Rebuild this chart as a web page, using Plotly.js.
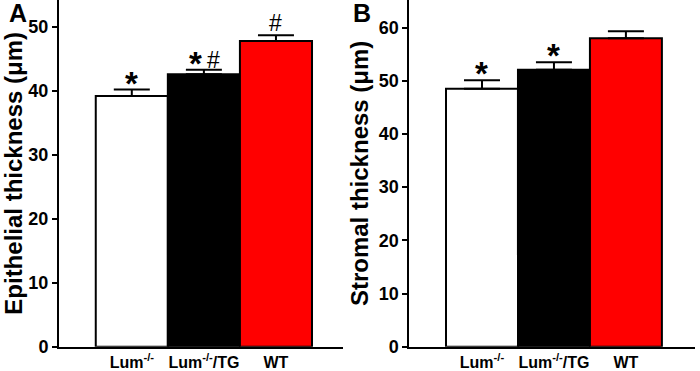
<!DOCTYPE html>
<html>
<head>
<meta charset="utf-8">
<script src="https://cdn.plot.ly/plotly-3.0.1.min.js"></script>
<style>html,body{margin:0;padding:0;background:#fff;}#chart{width:700px;height:371px;}</style>
</head>
<body>
<div id="chart"></div>
<script>
// ---- data ----
var categories = ["Lum-/-", "Lum-/-/TG", "WT"];
var tickLabels = ["Lum<sup>-/-</sup>", "Lum<sup>-/-</sup>/TG", "WT"];
var epithelialMean = [39.2, 42.6, 47.8];
var epithelialSEM = [1.0, 0.7, 0.9];
var stromalMean = [48.5, 52.1, 58.0];
var stromalSEM = [1.6, 1.4, 1.3];
var epithelialStars = [true, true, false];
var epithelialHashes = [false, true, true];
var stromalStars = [true, true, false];
var stromalHashes = [false, false, false];
var yTicksA = [0, 10, 20, 30, 40, 50];
var yTicksB = [0, 10, 20, 30, 40, 50, 60];
var barColors = ["#ffffff", "#000000", "#ff0000"];

var FONT = "Liberation Sans, Arial, Helvetica, sans-serif";

function barTrace(vals, errs, xa, ya) {
  return {
    type: "bar", x: categories, y: vals, xaxis: xa, yaxis: ya,
    marker: {color: barColors, line: {color: "#000", width: 2}},
    error_y: {type: "data", symmetric: false, array: errs,
              arrayminus: errs.map(function(){return 0;}),
              color: "#000", thickness: 2, width: 18},
    hoverinfo: "none", showlegend: false
  };
}

var data = [
  barTrace(epithelialMean, epithelialSEM, "x", "y"),
  barTrace(stromalMean, stromalSEM, "x2", "y2")
];

var annotations = [];
function addMarks(stars, hashes, means, sems, xref, yref) {
  categories.forEach(function(c, i) {
    var both = stars[i] && hashes[i];
    if (stars[i]) {
      annotations.push({
        x: c, y: means[i] + sems[i], xref: xref, yref: yref,
        text: "*", showarrow: false, yanchor: "bottom", yshift: -14,
        xshift: both ? -8 : 0,
        font: {family: FONT, size: 33, color: "#000", weight: "bold"}
      });
    }
    if (hashes[i]) {
      annotations.push({
        x: c, y: means[i] + sems[i], xref: xref, yref: yref,
        text: "#", showarrow: false, yanchor: "bottom", yshift: both ? -5 : -3,
        xshift: both ? 10 : 0,
        font: {family: FONT, size: 23, color: "#000"}
      });
    }
  });
}
addMarks(epithelialStars, epithelialHashes, epithelialMean, epithelialSEM, "x", "y");
addMarks(stromalStars, stromalHashes, stromalMean, stromalSEM, "x2", "y2");

annotations.push({x: 7/700, y: 1, xref: "paper", yref: "paper", xanchor: "left", yanchor: "top",
  text: "A", showarrow: false, yshift: 3, font: {family: FONT, size: 25, color: "#000", weight: "bold"}});
annotations.push({x: 351/700, y: 1, xref: "paper", yref: "paper", xanchor: "left", yanchor: "top",
  text: "B", showarrow: false, yshift: 3, font: {family: FONT, size: 25, color: "#000", weight: "bold"}});

var tickFont = {family: FONT, size: 18, color: "#000", weight: "bold"};
var xTickFont = {family: FONT, size: 16, color: "#000", weight: "bold"};
var titleFont = {family: FONT, size: 24, color: "#000", weight: "bold"};

function xAxis(domain, range, anchor) {
  return {domain: domain, anchor: anchor, type: "category", range: range,
    showline: true, linecolor: "#000", linewidth: 2, ticks: "", showgrid: false,
    zeroline: false, tickmode: "array", tickvals: categories, ticktext: tickLabels,
    tickfont: xTickFont, fixedrange: true};
}
function yAxis(domain, range, anchor, title, ticks, standoff) {
  return {domain: domain, anchor: anchor, range: range, showline: true, linecolor: "#000",
    linewidth: 2, ticks: "outside", ticklen: 5, tickwidth: 2, tickcolor: "#000",
    showgrid: false, zeroline: false, tickmode: "array", tickvals: ticks,
    ticktext: ticks.map(function(t){return "<b>" + t + "</b>";}), tickfont: tickFont,
    title: {text: title, font: titleFont, standoff: standoff}, fixedrange: true};
}

var yDom = [24.3/371, 1];
var layout = {
  width: 700, height: 371,
  margin: {l: 0, r: 0, t: 0, b: 0},
  paper_bgcolor: "#fff", plot_bgcolor: "#fff",
  bargap: 0,
  xaxis: xAxis([59/700, 343/700], [-1.01, 2.93], "y"),
  yaxis: yAxis(yDom, [0, 54.2], "x", "Epithelial thickness (μm)", yTicksA, 10),
  xaxis2: xAxis([409.3/700, 695/700], [-1.01, 2.96], "y2"),
  yaxis2: yAxis(yDom, [0, 65.2], "x2", "Stromal thickness (μm)", yTicksB, 3),
  annotations: annotations,
  font: {family: FONT, color: "#000"}
};

Plotly.newPlot("chart", data, layout, {displayModeBar: false, staticPlot: true});
</script>
</body>
</html>
